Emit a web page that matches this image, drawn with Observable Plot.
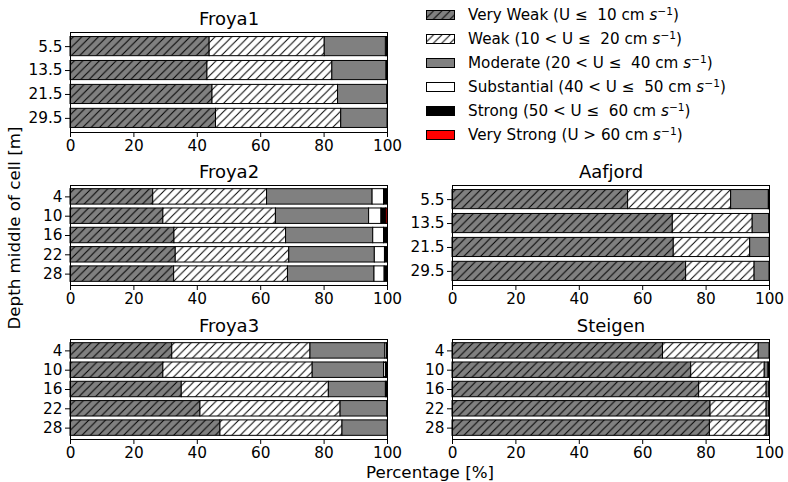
<!DOCTYPE html>
<html>
<head>
<meta charset="utf-8">
<script src="https://cdn.jsdelivr.net/npm/d3@7"></script>
<script src="https://cdn.jsdelivr.net/npm/@observablehq/plot@0.6"></script>
<style>
  body { margin: 0; background: #fff; font-family: "DejaVu Sans", sans-serif; color: #000; }
  #chart { position: relative; width: 788px; height: 482px; overflow: hidden; background: #fff; }
  .panel { position: absolute; }
  .legend { position: absolute; left: 426px; top: 0; font-size: 15.2px; }
  .legend .row { position: absolute; left: 0; height: 24px; display: flex; align-items: center; white-space: pre; }
  .legend .row svg { margin-right: 13px; flex: none; }
  .legend sup { font-size: 70%; vertical-align: 0; position: relative; top: -0.5em; }
  .ylabel { position: absolute; left: 14px; top: 228px; transform: translate(-50%, -50%) rotate(-90deg); font-size: 16.7px; white-space: nowrap; }
  .xlabel { position: absolute; left: 430px; top: 464px; line-height: 1; transform: translateX(-50%); font-size: 16.7px; white-space: nowrap; }
</style>
</head>
<body>
<svg width="0" height="0" style="position:absolute">
  <defs>
    <pattern id="hatch-gray" patternUnits="userSpaceOnUse" width="8.33" height="8.33">
      <rect width="8.33" height="8.33" fill="#808080"/>
      <path d="M-1,1 L1,-1 M0,8.33 L8.33,0 M7.33,9.33 L9.33,7.33" stroke="#000" stroke-width="1"/>
    </pattern>
    <pattern id="hatch-white" patternUnits="userSpaceOnUse" width="8.33" height="8.33">
      <rect width="8.33" height="8.33" fill="#ffffff"/>
      <path d="M-1,1 L1,-1 M0,8.33 L8.33,0 M7.33,9.33 L9.33,7.33" stroke="#000" stroke-width="1"/>
    </pattern>
  </defs>
</svg>
<div id="chart"></div>
<script>
// Current-speed classes, in stacking order
const categories = ["Very Weak", "Weak", "Moderate", "Substantial", "Strong", "Very Strong"];
const conditions = ["U \u2264  10", "10 < U \u2264  20", "20 < U \u2264  40", "40 < U \u2264  50", "50 < U \u2264  60", "U > 60"];
const fills = ["url(#hatch-gray)", "url(#hatch-white)", "#808080", "#ffffff", "#000000", "#ff0000"];

// Percentage of time in each class, per depth (rows follow categories)
const froya1Depths = ["5.5", "13.5", "21.5", "29.5"];
const froya1 = [
  [43.9, 36.3, 19.3, 0.4, 0.1, 0],
  [43.2, 39.4, 17.1, 0.3, 0, 0],
  [44.8, 39.6, 15.5, 0.1, 0, 0],
  [45.9, 39.5, 14.6, 0, 0, 0]
];

const froya2Depths = ["4", "10", "16", "22", "28"];
const froya2 = [
  [26.1, 35.9, 33.3, 3.6, 1.1, 0],
  [29.3, 35.5, 29.4, 3.9, 1.4, 0.5],
  [32.8, 35.2, 27.5, 3.4, 1.1, 0],
  [33.2, 35.8, 27.0, 3.2, 0.8, 0],
  [32.7, 35.9, 27.3, 3.2, 0.9, 0]
];

const aafjordDepths = ["5.5", "13.5", "21.5", "29.5"];
const aafjord = [
  [55.4, 32.5, 11.9, 0.1, 0.1, 0],
  [69.5, 25.2, 5.2, 0.1, 0, 0],
  [69.8, 24.1, 6.1, 0, 0, 0],
  [73.7, 21.6, 4.7, 0, 0, 0]
];

const froya3Depths = ["4", "10", "16", "22", "28"];
const froya3 = [
  [32.1, 43.6, 23.6, 0.5, 0.2, 0],
  [29.3, 47.1, 22.5, 0.6, 0.5, 0],
  [35.1, 46.4, 18.0, 0.3, 0.2, 0],
  [41.0, 44.2, 14.7, 0.1, 0, 0],
  [47.3, 38.5, 14.2, 0, 0, 0]
];

const steigenDepths = ["4", "10", "16", "22", "28"];
const steigen = [
  [66.4, 30.2, 3.4, 0, 0, 0],
  [75.3, 23.2, 1.2, 0.3, 0, 0],
  [77.8, 21.3, 0.8, 0.1, 0, 0],
  [81.4, 17.7, 0.8, 0.1, 0, 0],
  [81.2, 17.9, 0.8, 0.1, 0, 0]
];

const xTicks = [0, 20, 40, 60, 80, 100];

const chart = document.getElementById("chart");

function panel(title, depths, table, left, top) {
  const rows = [];
  depths.forEach((depth, i) => {
    table[i].forEach((value, j) => {
      if (value > 0) rows.push({depth, category: categories[j], value});
    });
  });
  const plot = Plot.plot({
    width: 400,
    height: 160,
    marginLeft: 70,
    marginRight: 13,
    marginTop: 30,
    marginBottom: 30,
    style: {background: "transparent", overflow: "visible", fontFamily: "DejaVu Sans", fontSize: "15.3px", color: "#000"},
    x: {domain: [0, 100], ticks: xTicks, label: null},
    y: {type: "band", domain: depths, paddingInner: 0.2, paddingOuter: 0.19, round: false, label: null},
    color: {type: "ordinal", domain: categories, range: fills},
    marks: [
      Plot.barX(rows, Plot.stackX({x: "value", y: "depth", fill: "category", stroke: "#000", strokeWidth: 1})),
      Plot.frame({stroke: "#000", strokeWidth: 1}),
      Plot.axisX({ticks: xTicks, tickSize: 5, tickPadding: 3, fontSize: 15.3, label: null}),
      Plot.axisY({tickSize: 5, tickPadding: 3, fontSize: 15.3, label: null}),
      Plot.text([title], {text: d => d, frameAnchor: "top", lineAnchor: "middle", dy: -13, fontSize: 18})
    ]
  });
  const div = document.createElement("div");
  div.className = "panel";
  div.style.left = left + "px";
  div.style.top = top + "px";
  div.appendChild(plot);
  chart.appendChild(div);
}

panel("Froya1", froya1Depths, froya1, 0, 2);
panel("Froya2", froya2Depths, froya2, 0, 155);
panel("Aafjord", aafjordDepths, aafjord, 382, 155);
panel("Froya3", froya3Depths, froya3, 0, 309);
panel("Steigen", steigenDepths, steigen, 382, 309);

// Legend
const legend = document.createElement("div");
legend.className = "legend";
categories.forEach((name, i) => {
  const row = document.createElement("div");
  row.className = "row";
  row.style.top = (3 + i * 24) + "px";
  row.innerHTML =
    `<svg width="29" height="10"><rect x="0.5" y="0.5" width="28" height="9" fill="${fills[i]}" stroke="#000" stroke-width="1"/></svg>` +
    `<span>${name} (${conditions[i]} cm <i>s</i><sup>\u22121</sup>)</span>`;
  legend.appendChild(row);
});
chart.appendChild(legend);

const ylabel = document.createElement("div");
ylabel.className = "ylabel";
ylabel.textContent = "Depth middle of cell [m]";
chart.appendChild(ylabel);

const xlabel = document.createElement("div");
xlabel.className = "xlabel";
xlabel.textContent = "Percentage [%]";
chart.appendChild(xlabel);
</script>
</body>
</html>
